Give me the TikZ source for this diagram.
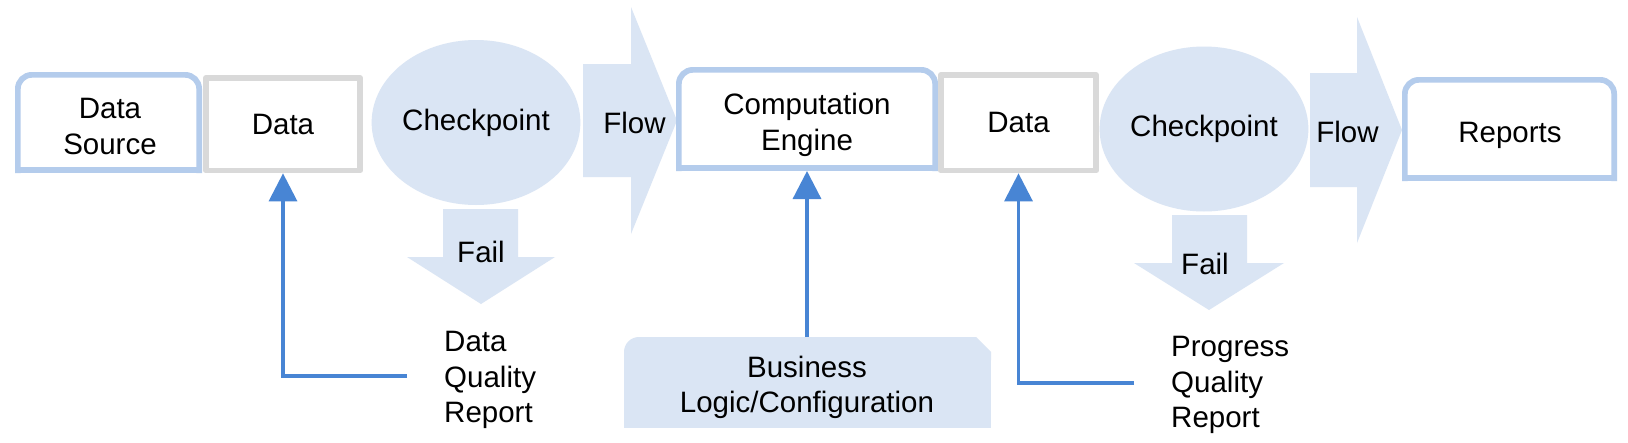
\documentclass[tikz,border=0pt]{standalone}
\usepackage{fontspec}
\setmainfont{Liberation Sans}
\usetikzlibrary{shapes.geometric,arrows.meta,calc}
\definecolor{lf}{RGB}{218,229,244}
\definecolor{bb}{RGB}{180,204,236}
\definecolor{gb}{RGB}{217,217,217}
\definecolor{ab}{RGB}{72,133,212}
\newcommand\rtborder[1]{%
  \draw[bb, line width=5.7pt, rounded corners=14pt, line cap=rect]
    ([shift={(2.85pt,2.85pt)}]#1.south west) -- ([shift={(2.85pt,-2.85pt)}]#1.north west)
    -- ([shift={(-2.85pt,-2.85pt)}]#1.north east) -- ([shift={(-2.85pt,2.85pt)}]#1.south east);
  \draw[bb, line width=5.7pt, line cap=rect]
    ([shift={(-2.85pt,2.85pt)}]#1.south east) -- ([shift={(2.85pt,2.85pt)}]#1.south west);}
\tikzset{
  txt/.style={font=\fontsize{29.5}{35.5}\selectfont, inner sep=0pt, align=center},
  frame/.style={inner sep=0pt, outer sep=0pt},
  graybox/.style={draw=gb, line width=5.7pt, line join=round, txt},
  ell/.style={ellipse, fill=lf, txt},
  conn/.style={draw=ab, line width=3.3pt, -{Triangle[width=28pt,length=28pt]}},
}
\begin{document}
\begin{tikzpicture}[x=1pt,y=-1pt]
\fill[white] (0,0) rectangle (1628,442);
\useasboundingbox (0,0) rectangle (1628,442);

% block arrows
\fill[lf] (583,64) -- (631,64) -- (631,7) -- (677,120.5) -- (631,234) -- (631,177) -- (583,177) -- cycle;
\fill[lf] (1310,73) -- (1357,73) -- (1357,17) -- (1402,130) -- (1357,243) -- (1357,187) -- (1310,187) -- cycle;
\fill[lf] (443,209) -- (518,209) -- (518,257) -- (555,257) -- (481,304) -- (407,257) -- (443,257) -- cycle;
\fill[lf] (1172,215) -- (1247,215) -- (1247,263) -- (1284,263) -- (1209,310) -- (1134,263) -- (1172,263) -- cycle;

% checkpoints
\node[ell, minimum width=208pt, minimum height=165pt] (cp1) at (476,122.5) {Checkpoint};
\node[ell, minimum width=208pt, minimum height=165pt] (cp2) at (1204,129) {Checkpoint};

% boxes
\node[frame, minimum width=187pt, minimum height=101pt] (ds) at (108.5,122.5) {};
\rtborder{ds}
\node[txt] (dst) at (110,126.5) {Data\\Source};
\node[graybox, minimum width=154.3pt, minimum height=92.6pt] (data1) at (283,124.2) {Data};
\node[frame, minimum width=262pt, minimum height=104pt] (ce) at (807,119) {};
\rtborder{ce}
\node[txt] (cet) at (807,125) {Computation\\Engine};
\node[graybox, minimum width=155.3pt, minimum height=95.6pt] (data2) at (1018.5,122.7) {Data};
\node[frame, minimum width=215pt, minimum height=104pt] (rep) at (1509.5,129) {};
\rtborder{rep}
\node[txt] (rept) at (1510,135) {Reports};

% arrow labels
\node[txt] (fl1) at (634.5,123) {Flow};
\node[txt] (fl2) at (1347.5,132) {Flow};
\node[txt] (fa1) at (481,252) {Fail};
\node[txt] (fa2) at (1205,263.5) {Fail};

% reports text
\node[txt, align=left, anchor=west] (dqr) at (444,380) {Data\\Quality\\Report};
\node[txt, align=left, anchor=west] (pqr) at (1171,385) {Progress\\Quality\\Report};

% business logic box
\fill[lf, rounded corners=15pt] (624,337) rectangle (700,400);
\fill[lf] (624,352) rectangle (991,428);
\fill[lf] (639,337) -- (976,337) -- (991,352) -- (991,360) -- (639,360) -- cycle;
\node[frame, minimum width=367pt, minimum height=91pt] (biz) at (807.5,382.5) {};
\node[txt] (bizt) at (807,387.5) {Business\\Logic/Configuration};

% connectors
\coordinate (dqrend) at (407,376);
\coordinate (pqrend) at (1134,383);
\draw[conn] (dqrend) -| (data1.south);
\draw[conn] (pqrend) -| (data2.south);
\draw[conn] (ce.south |- biz.north) -- (ce.south);
\end{tikzpicture}
\end{document}
